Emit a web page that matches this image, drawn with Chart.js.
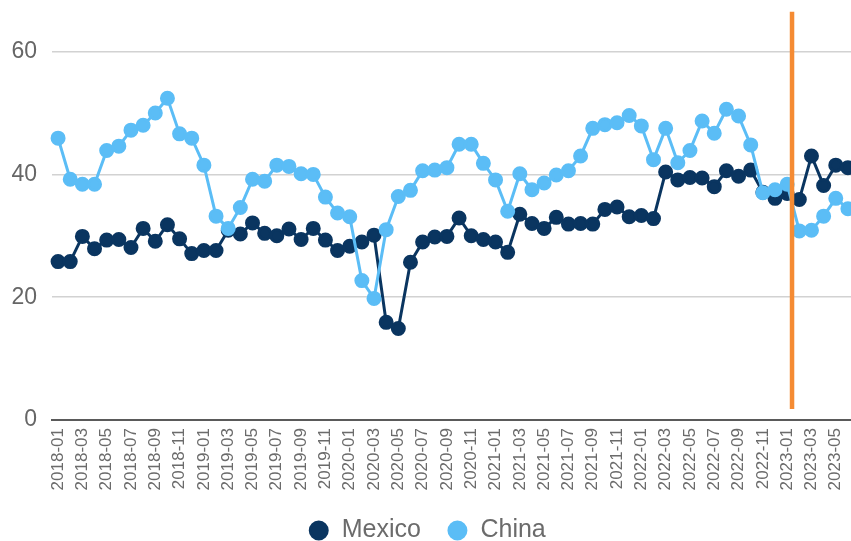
<!DOCTYPE html>
<html>
<head>
<meta charset="utf-8">
<title>Mexico vs China</title>
<script src="https://cdn.jsdelivr.net/npm/chart.js@4/dist/chart.umd.min.js"></script>
<style>
  html, body { margin: 0; padding: 0; background: #fff; overflow: hidden; }
  canvas { display: block; }
</style>
</head>
<body>
<canvas id="lineChart" width="854" height="541"></canvas>
<script>
const months = [
  '2018-01','2018-02','2018-03','2018-04','2018-05','2018-06','2018-07','2018-08','2018-09','2018-10','2018-11','2018-12',
  '2019-01','2019-02','2019-03','2019-04','2019-05','2019-06','2019-07','2019-08','2019-09','2019-10','2019-11','2019-12',
  '2020-01','2020-02','2020-03','2020-04','2020-05','2020-06','2020-07','2020-08','2020-09','2020-10','2020-11','2020-12',
  '2021-01','2021-02','2021-03','2021-04','2021-05','2021-06','2021-07','2021-08','2021-09','2021-10','2021-11','2021-12',
  '2022-01','2022-02','2022-03','2022-04','2022-05','2022-06','2022-07','2022-08','2022-09','2022-10','2022-11','2022-12',
  '2023-01','2023-02','2023-03','2023-04','2023-05','2023-06'
];

const mexico = [
  25.8, 25.8, 29.9, 27.9, 29.3, 29.4, 28.1, 31.2, 29.1, 31.8, 29.5, 27.1,
  27.6, 27.6, 30.9, 30.3, 32.1, 30.4, 30.0, 31.1, 29.4, 31.2, 29.3, 27.6,
  28.3, 29.0, 30.1, 15.9, 14.9, 25.7, 29.0, 29.8, 29.9, 32.9, 30.0, 29.4,
  29.0, 27.3, 33.5, 32.0, 31.2, 33.0, 31.9, 32.0, 31.9, 34.3, 34.7, 33.1,
  33.3, 32.8, 40.4, 39.1, 39.5, 39.4, 38.0, 40.6, 39.7, 40.7, 37.1, 36.1,
  36.9, 35.9, 43.0, 38.2, 41.5, 41.1
];

const china = [
  45.9, 39.2, 38.4, 38.4, 43.9, 44.6, 47.2, 48.0, 50.0, 52.4, 46.6, 45.9,
  41.5, 33.2, 31.2, 34.6, 39.2, 38.9, 41.5, 41.3, 40.1, 40.0, 36.3, 33.7,
  33.1, 22.7, 19.8, 31.0, 36.4, 37.4, 40.6, 40.7, 41.1, 44.9, 44.9, 41.8,
  39.1, 34.0, 40.1, 37.5, 38.6, 39.9, 40.6, 43.0, 47.5, 48.1, 48.4, 49.6,
  47.9, 42.4, 47.5, 41.9, 43.9, 48.7, 46.7, 50.6, 49.5, 44.8, 37.0, 37.5,
  38.4, 30.8, 30.9, 33.2, 36.1, 34.4
];

const yTicks = [0, 20, 40, 60];

// vertical marker between 2023-01 and 2023-02, spanning these y values
const markerIndex = 60.4;
const markerRange = [1.8, 66.5];

const markerLine = {
  id: 'markerLine',
  afterDatasetsDraw(chart) {
    const x = chart.scales.x, y = chart.scales.y;
    const i = Math.floor(markerIndex);
    const px = x.getPixelForValue(i) + (markerIndex - i) * (x.getPixelForValue(i + 1) - x.getPixelForValue(i));
    const ctx = chart.ctx;
    ctx.save();
    ctx.strokeStyle = '#F58B33';
    ctx.lineWidth = 4.5;
    ctx.beginPath();
    ctx.moveTo(px, y.getPixelForValue(markerRange[0]));
    ctx.lineTo(px, y.getPixelForValue(markerRange[1]));
    ctx.stroke();
    ctx.restore();
  }
};

Chart.defaults.font.family = '"Liberation Sans", Arial, sans-serif';
Chart.defaults.color = '#666';

new Chart(document.getElementById('lineChart').getContext('2d'), {
  type: 'line',
  data: {
    labels: months,
    datasets: [
      {
        label: 'Mexico',
        data: mexico,
        borderColor: '#0A3560',
        backgroundColor: '#0A3560',
        borderWidth: 3,
        pointRadius: 6,
        pointHoverRadius: 6,
        tension: 0,
        order: 1
      },
      {
        label: 'China',
        data: china,
        borderColor: '#5BBDF6',
        backgroundColor: '#5BBDF6',
        borderWidth: 3,
        pointRadius: 6,
        pointHoverRadius: 6,
        tension: 0,
        order: 0
      }
    ]
  },
  options: {
    responsive: false,
    animation: false,
    layout: { autoPadding: false, padding: { top: 0, bottom: -12 } },
    plugins: {
      tooltip: { enabled: false },
      legend: {
        position: 'bottom',
        labels: {
          usePointStyle: true,
          pointStyle: 'circle',
          boxWidth: 21,
          boxHeight: 12,
          padding: 26,
          color: '#6b6b6b',
          font: { size: 25 },
          sort: (a, b) => a.datasetIndex - b.datasetIndex
        }
      }
    },
    scales: {
      x: {
        offset: true,
        grid: { display: false, drawTicks: false },
        border: { display: true, color: '#5a5a5a', width: 2 },
        ticks: {
          autoSkip: false,
          maxRotation: 90,
          minRotation: 90,
          padding: 8,
          color: '#6b6b6b',
          font: { size: 17 },
          callback: (v, i) => (i % 2 === 0 ? months[i] : '')
        },
        afterFit: (axis) => {
          axis.height = 72;
          axis.paddingLeft = 0;
          axis.paddingRight = 0;
        }
      },
      y: {
        min: 0,
        max: 68.4,
        border: { display: false },
        grid: {
          drawTicks: false,
          lineWidth: 1.5,
          color: (ctx) => (ctx.tick && ctx.tick.value === 0 ? 'rgba(0,0,0,0)' : '#d2d2d2')
        },
        ticks: {
          padding: 15,
          color: '#666',
          font: { size: 23 }
        },
        afterBuildTicks: (axis) => { axis.ticks = yTicks.map((v) => ({ value: v })); },
        afterFit: (axis) => {
          axis.width = 52;
          axis.paddingTop = 0;
          axis.paddingBottom = 0;
        }
      }
    }
  },
  plugins: [markerLine]
});
</script>
</body>
</html>
